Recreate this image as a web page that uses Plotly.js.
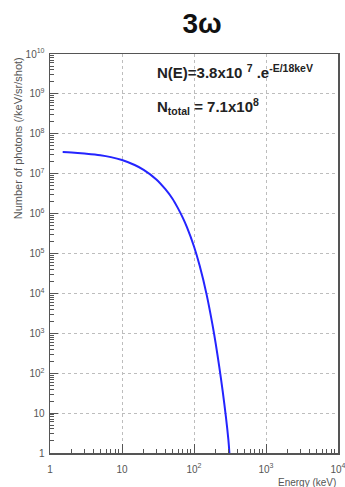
<!DOCTYPE html>
<html>
<head>
<meta charset="utf-8">
<script src="https://cdn.plot.ly/plotly-3.0.1.min.js"></script>
<style>html,body{margin:0;padding:0;background:#fff;}#chart{width:345px;height:487px;}</style>
</head>
<body>
<div id="chart"></div>
<script>
// Data
const energy = [1.5, 2, 3, 5, 7, 10, 15, 20, 30, 40, 50, 60, 70, 80, 100, 120, 150, 180, 200, 250, 300, 310];
const photons = [3.5e7, 3.4e7, 3.2e7, 2.9e7, 2.6e7, 2.2e7, 1.65e7, 1.25e7, 7.2e6, 4.1e6, 2.4e6, 1.35e6, 7.8e5, 4.5e5, 1.5e5, 4.9e4, 9.2e3, 1.7e3, 5.6e2, 3.6e1, 2.2, 1.0];
const xTickVals = [1, 10, 100, 1000, 10000];
const xTickText = ['1', '10', '10<sup>2</sup>', '10<sup>3</sup>', '10<sup>4</sup>'];
const yTickVals = [1, 10, 1e2, 1e3, 1e4, 1e5, 1e6, 1e7, 1e8, 1e9, 1e10];
const yTickText = ['1', '10', '10<sup>2</sup>', '10<sup>3</sup>', '10<sup>4</sup>', '10<sup>5</sup>', '10<sup>6</sup>', '10<sup>7</sup>', '10<sup>8</sup>', '10<sup>9</sup>', '10<sup>10</sup>'];
const xMinor = [2,3,4,5,6,7,8,9,20,30,40,50,60,70,80,90,200,300,400,500,600,700,800,900,2000,3000,4000,5000,6000,7000,8000,9000];
const yMinorMantissa = [2,3,4,5,6,7,8,9];

const frame = '#555';
const gridC = '#bdbdbd';
const fam = 'Liberation Sans, Arial, sans-serif';
const tickFont = {family: fam, size: 10, color: '#555'};

const yMinor = [];
for (let d = 0; d < 10; d++) { yMinorMantissa.forEach(m => yMinor.push(m * Math.pow(10, d))); }

const trace = {
  x: energy, y: photons, type: 'scatter', mode: 'lines',
  line: {color: '#2424ff', width: 2, shape: 'spline'},
  hoverinfo: 'skip'
};

const layout = {
  width: 345, height: 487,
  margin: {l: 50, r: 7, t: 54, b: 34},
  paper_bgcolor: '#fff', plot_bgcolor: '#fff',
  showlegend: false,
  title: {text: '<b>3ω</b>', x: 0.586, xanchor: 'center', y: 0.952, yanchor: 'middle',
          font: {family: fam, size: 28, color: '#111'}},
  xaxis: {
    type: 'log', range: [0, 4],
    tickmode: 'array', tickvals: xTickVals, ticktext: xTickText,
    ticks: 'inside', ticklen: 9, tickcolor: frame, tickwidth: 1,
    showline: true, linecolor: frame, linewidth: 1.5, mirror: true,
    showgrid: true, gridcolor: gridC, griddash: 'dot', gridwidth: 1,
    zeroline: false, tickfont: tickFont, ticklabeloverflow: 'allow', ticklabelstandoff: 6,
    minor: {tickmode: 'array', tickvals: xMinor,
            ticks: 'inside', ticklen: 4, tickcolor: frame, showgrid: false}
  },
  yaxis: {
    type: 'log', range: [0, 10],
    tickmode: 'array', tickvals: yTickVals, ticktext: yTickText,
    ticks: 'inside', ticklen: 8, tickcolor: frame, tickwidth: 1,
    showline: true, linecolor: frame, linewidth: 1.5, mirror: true,
    showgrid: true, gridcolor: gridC, griddash: 'dot', gridwidth: 1,
    zeroline: false, tickfont: tickFont, ticklabelstandoff: 2, ticklabeloverflow: 'allow',
    minor: {tickmode: 'array', tickvals: yMinor,
            ticks: 'inside', ticklen: 4, tickcolor: frame, showgrid: false}
  },
  annotations: [
    {text: 'N(E)=3.8x10 <sup>7</sup> .e<sup>-E/18keV</sup>', xref: 'paper', yref: 'paper',
     x: 0.365, y: 0.955, xanchor: 'left', yanchor: 'middle', showarrow: false,
     font: {family: fam, size: 15, color: '#222', weight: 'bold'}},
    {text: 'N<sub>total</sub> = 7.1x10<sup>8</sup>', xref: 'paper', yref: 'paper',
     x: 0.365, y: 0.868, xanchor: 'left', yanchor: 'middle', showarrow: false,
     font: {family: fam, size: 15, color: '#222', weight: 'bold'}},
    {text: 'Number of photons (/keV/sr/shot)', xref: 'paper', yref: 'paper',
     x: -0.111, y: 0.997, xanchor: 'center', yanchor: 'top', textangle: -90, showarrow: false,
     font: {family: fam, size: 11, color: '#555'}},
    {text: 'Energy (keV)', xref: 'paper', yref: 'paper',
     x: 1.0, y: -0.073, xanchor: 'right', yanchor: 'middle', showarrow: false,
     font: {family: fam, size: 10, color: '#555'}}
  ]
};

Plotly.newPlot('chart', [trace], layout, {staticPlot: true, displayModeBar: false});
</script>
</body>
</html>
